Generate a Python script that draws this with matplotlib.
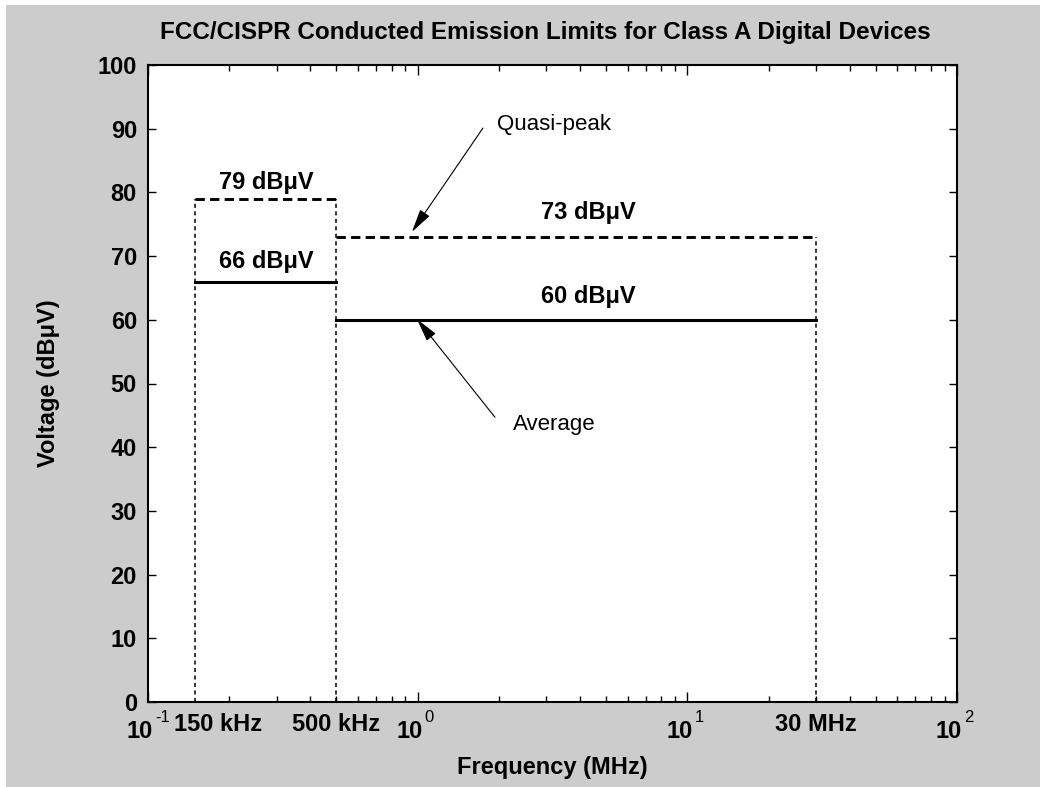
import matplotlib.pyplot as plt
from matplotlib.patches import Rectangle
from matplotlib.transforms import offset_copy
import numpy as np

plt.rcParams['font.family'] = ['Liberation Sans', 'DejaVu Sans']

# Limites (MHz, dBuV)
freq_edges = [0.15, 0.5, 30]
qp_limits = [79, 73]
avg_limits = [66, 60]
band_labels = ['150 kHz', '500 kHz', '30 MHz']
decades = [0.1, 1, 10, 100]
exponents = ['-1', '0', '1', '2']

fig = plt.figure(figsize=(10.4, 7.87), dpi=100, facecolor='white')
fig.patches.append(Rectangle((6 / 1040, 0), 1, (787 - 5) / 787, transform=fig.transFigure,
                             facecolor='#cccccc', edgecolor='none', zorder=-10))
ax = fig.add_axes([148 / 1040, 85 / 787, 809 / 1040, 637 / 787])
ax.set_facecolor('white')

# Lineas horizontales
for i in range(2):
    x0, x1 = freq_edges[i], freq_edges[i + 1]
    ax.plot([x0, x1], [qp_limits[i], qp_limits[i]], color='black', lw=2.1, ls=(0, (3.2, 1.8)))
    ax.plot([x0, x1], [avg_limits[i], avg_limits[i]], color='black', lw=2.2, ls='-')

# Lineas verticales punteadas
vert_tops = [qp_limits[0], qp_limits[0], qp_limits[1]]
for f, top in zip(freq_edges, vert_tops):
    ax.plot([f, f], [0, top], color='black', lw=1.1, ls=(0, (2.7, 2.2)))

# Etiquetas de nivel
lbl_x = [0.274, 4.3]
qp_lbl_y = [81.6, 76.9]
avg_lbl_y = [69.1, 63.6]
for i in range(2):
    ax.text(lbl_x[i], qp_lbl_y[i], f'{qp_limits[i]} dB\u03bcV', ha='center', va='center',
            fontsize=17, fontweight='bold')
    ax.text(lbl_x[i], avg_lbl_y[i], f'{avg_limits[i]} dB\u03bcV', ha='center', va='center',
            fontsize=17, fontweight='bold')

# Flechas
head = '-|>,head_length=0.9,head_width=0.22'
ax.annotate('', xy=(0.952, 73.8), xytext=(1.746, 90.1),
            arrowprops=dict(arrowstyle=head, color='black', lw=0.8, mutation_scale=16,
                            shrinkA=0, shrinkB=0))
ax.text(1.968, 90.6, 'Quasi-peak', fontsize=16, va='center', ha='left')
ax.annotate('', xy=(0.994, 60.1), xytext=(1.935, 44.7),
            arrowprops=dict(arrowstyle=head, color='black', lw=0.8, mutation_scale=16,
                            shrinkA=0, shrinkB=0))
ax.text(2.256, 43.5, 'Average', fontsize=16, va='center', ha='left')

ax.set_xscale('log')
ax.set_xlim(0.1, 100)
ax.set_ylim(0, 100)
ax.set_yticks(np.arange(0, 101, 10))
ax.set_xticks(decades)
ax.set_xticklabels([])

ax.tick_params(axis='both', which='both', direction='in', top=True, right=True, width=1.0)
ax.tick_params(axis='x', which='major', length=7)
ax.tick_params(axis='x', which='minor', length=4)
ax.tick_params(axis='y', which='major', length=6, labelsize=17, pad=8)
for lab in ax.get_yticklabels():
    lab.set_fontweight('bold')
for sp in ax.spines.values():
    sp.set_linewidth(1.5)

# Etiquetas de decada estilo 10^n
xtr = ax.get_xaxis_transform()
base_tr = offset_copy(xtr, fig=fig, x=5, y=0, units='dots')
exp_tr = offset_copy(xtr, fig=fig, x=7, y=0, units='dots')
for d, e in zip(decades, exponents):
    ax.text(d, -0.047, '10', transform=base_tr, ha='right', va='center',
            fontsize=17, fontweight='bold', clip_on=False)
    ax.text(d, -0.025, e, transform=exp_tr, ha='left', va='center',
            fontsize=12, clip_on=False)

label_x = [0.182, 0.5, 30]
for x, t in zip(label_x, band_labels):
    ax.text(x, -0.036, t, transform=xtr, ha='center', va='center',
            fontsize=17, fontweight='bold')

ax.set_xlabel('Frequency (MHz)', fontsize=17, fontweight='bold')
ax.xaxis.set_label_coords(0.5, -0.1036)
ax.xaxis.label.set_va('center')
ax.set_ylabel('Voltage (dB\u03bcV)', fontsize=17, fontweight='bold')
ax.yaxis.set_label_coords(-0.1236, 0.5)
ax.yaxis.label.set_va('center')
fig.text(0.5245, 0.959, 'FCC/CISPR Conducted Emission Limits for Class A Digital Devices',
         ha='center', va='center', fontsize=17.5, fontweight='bold')

fig.savefig('out.png', dpi=100, facecolor=fig.get_facecolor())
